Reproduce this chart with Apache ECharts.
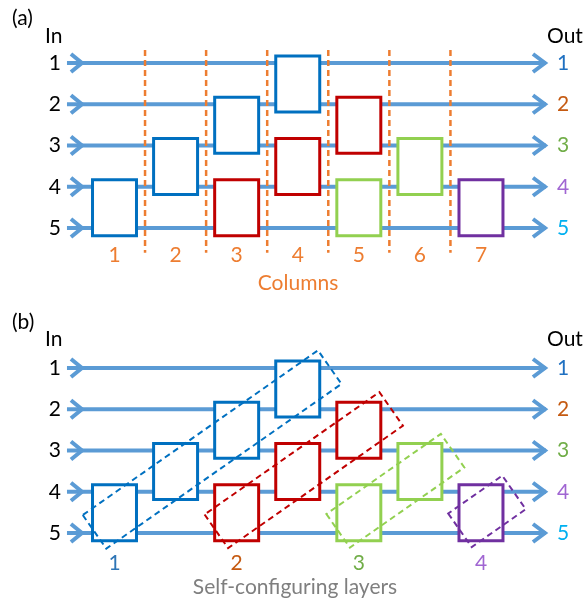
<!DOCTYPE html>
<html><head><meta charset="utf-8">
<script src="https://cdn.jsdelivr.net/npm/echarts/dist/echarts.min.js"></script>
<style>html,body{margin:0;padding:0;background:#fff}#c{width:585px;height:602px}</style>
</head><body><div id="c"></div>
<script>
// ---- data ----
const rows = [1, 2, 3, 4, 5];
const inLabels = ['1', '2', '3', '4', '5'];
const outLabels = ['1', '2', '3', '4', '5'];
const outColors = ['#1F70C1', '#C55A11', '#70AD47', '#A065D2', '#00B0F0'];
const columnLabels = ['1', '2', '3', '4', '5', '6', '7'];
const columnPositions = [1, 2, 3, 4, 5, 6, 7];
const dividerPositions = [1.5, 2.5, 3.5, 4.5, 5.5, 6.5];
const boxColumns = [1, 2, 3, 3, 4, 4, 5, 5, 6, 7];
const boxTopRows = [4, 3, 2, 4, 1, 3, 2, 4, 3, 4];
const boxColorIndex = [0, 0, 0, 1, 0, 1, 1, 2, 2, 3];
const groupColors = ['#0070C0', '#C00000', '#92D050', '#7030A0'];
const layerLabels = ['1', '2', '3', '4'];
const layerStartColumns = [1, 3, 5, 7];
const layerEndColumns = [4, 5, 6, 7];
const layerStartRow = 4.5;
const layerLabelColors = ['#2E75B6', '#C55A11', '#70AD47', '#A065D2'];
const waveguideStart = 0.222;
const waveguideEnd = 8.097;

// ---- style ----
const FONT = 'Lato, "Open Sans", sans-serif';
const FS = 21;
const LINE = '#5B9BD5';
const ORANGE = '#ED7D31';
const BOX_HW = 0.36, BOX_TOP = 0.17, BOX_BOTTOM = 0.19;

function txt(x, y, text, color, align) {
  return {type: 'text', x: x, y: y,
    style: {text: text, fill: color, fontSize: FS, fontFamily: FONT,
      align: align, textAlign: align, verticalAlign: 'middle', textVerticalAlign: 'middle'}};
}

function waveguideItem(params, api) {
  const r = api.value(0);
  const s = api.coord([waveguideStart, r]);
  const e = api.coord([waveguideEnd, r]);
  const st = {stroke: LINE, lineWidth: 4, fill: null, lineJoin: 'miter'};
  return {type: 'group', children: [
    {type: 'line', shape: {x1: s[0], y1: s[1], x2: e[0] - 2, y2: e[1]}, style: st},
    {type: 'polyline', shape: {points: [[s[0] + 4, s[1] - 9], [s[0] + 15, s[1]], [s[0] + 4, s[1] + 9]]}, style: st},
    {type: 'polyline', shape: {points: [[e[0] - 15, e[1] - 9], [e[0] - 3, e[1]], [e[0] - 15, e[1] + 9]]}, style: st}
  ]};
}
function rowTextItem(params, api) {
  const i = params.dataIndex;
  const r = api.value(0);
  const s = api.coord([waveguideStart, r]);
  const e = api.coord([waveguideEnd, r]);
  return {type: 'group', children: [
    txt(s[0] - 6, s[1], inLabels[i], '#000', 'right'),
    txt(e[0] + 9, e[1], outLabels[i], outColors[i], 'left')
  ]};
}
function dividerItem(params, api) {
  const x = api.value(0);
  const a = api.coord([x, 0.685]);
  const b = api.coord([x, 5.6]);
  return {type: 'line', shape: {x1: a[0], y1: a[1], x2: b[0], y2: b[1]},
    style: {stroke: ORANGE, lineWidth: 2.5, lineDash: [6, 4]}};
}
function boxItem(params, api) {
  const c = api.value(0), r = api.value(1), k = api.value(2);
  const tl = api.coord([c - BOX_HW, r - BOX_TOP]);
  const br = api.coord([c + BOX_HW, r + 1 + BOX_BOTTOM]);
  return {type: 'rect', shape: {x: tl[0], y: tl[1], width: br[0] - tl[0], height: br[1] - tl[1]},
    style: {fill: '#fff', stroke: groupColors[k], lineWidth: 3}};
}
function columnLabelItem(params, api) {
  const i = params.dataIndex;
  const p = api.coord([api.value(0), 5]);
  return txt(p[0], p[1] + 27, columnLabels[i], ORANGE, 'center');
}
function layerItem(params, api) {
  const i = params.dataIndex;
  const c0 = api.value(0), c1 = api.value(1);
  const p1 = api.coord([c0, layerStartRow]);
  const p2 = api.coord([c1, layerStartRow - (c1 - c0)]);
  const ang = 35 * Math.PI / 180;
  const u = [Math.cos(ang), -Math.sin(ang)];
  const n = [Math.sin(ang), Math.cos(ang)];
  const cx = (p1[0] + p2[0]) / 2 + 6, cy = (p1[1] + p2[1]) / 2 - 1;
  const half = Math.hypot(p2[0] - p1[0], p2[1] - p1[1]) / 2 + 33;
  const hw = 20.5;
  const pts = [[-1, -1], [-1, 1], [1, 1], [1, -1]].map(function (ab) {
    return [cx + u[0] * half * ab[0] + n[0] * hw * ab[1], cy + u[1] * half * ab[0] + n[1] * hw * ab[1]];
  });
  return {type: 'polygon', shape: {points: pts},
    style: {fill: 'rgba(0,0,0,0)', stroke: groupColors[i], lineWidth: 2, lineDash: [6, 4]}};
}
function layerLabelItem(params, api) {
  const i = params.dataIndex;
  const p = api.coord([api.value(0), 5]);
  return txt(p[0], p[1] + 30, layerLabels[i], layerLabelColors[i], 'center');
}

const boxData = boxColumns.map((c, i) => [c, boxTopRows[i], boxColorIndex[i]]);
const rowData = rows.map(r => [r]);
const layerData = layerStartColumns.map((c, i) => [c, layerEndColumns[i]]);

function axisPair(g) {
  return {
    x: {type: 'value', gridIndex: g, min: -0.8746, max: 8.703, show: false},
    y: {type: 'value', gridIndex: g, min: -0.527, max: 6.673, inverse: true, show: false}
  };
}
const a0 = axisPair(0), a1 = axisPair(1);
function cs(g, data, fn, z) {
  return {type: 'custom', xAxisIndex: g, yAxisIndex: g, data: data, renderItem: fn, clip: false, z: z, silent: true};
}

const chart = echarts.init(document.getElementById('c'), null, {renderer: 'canvas'});
chart.setOption({
  animation: false,
  backgroundColor: '#fff',
  grid: [
    {left: 0, top: 0, width: 585, height: 297},
    {left: 0, top: 305, width: 585, height: 297}
  ],
  xAxis: [a0.x, a1.x],
  yAxis: [a0.y, a1.y],
  series: [
    cs(0, rowData, waveguideItem, 1),
    cs(0, rowData, rowTextItem, 1),
    cs(0, dividerPositions.map(x => [x]), dividerItem, 2),
    cs(0, boxData, boxItem, 3),
    cs(0, columnPositions.map(x => [x]), columnLabelItem, 3),
    cs(1, rowData, waveguideItem, 1),
    cs(1, rowData, rowTextItem, 1),
    cs(1, boxData, boxItem, 3),
    cs(1, layerData, layerItem, 4),
    cs(1, layerStartColumns.map(x => [x]), layerLabelItem, 4)
  ],
  graphic: [
    txt(12, 18, '(a)', '#000', 'left'),
    txt(45, 36, 'In', '#000', 'left'),
    txt(547, 36, 'Out', '#000', 'left'),
    txt(298, 283, 'Columns', ORANGE, 'center'),
    txt(12, 322, '(b)', '#000', 'left'),
    txt(45, 339, 'In', '#000', 'left'),
    txt(547, 339, 'Out', '#000', 'left'),
    txt(295, 587, 'Self-configuring layers', '#7F7F7F', 'center')
  ]
});
</script></body></html>
